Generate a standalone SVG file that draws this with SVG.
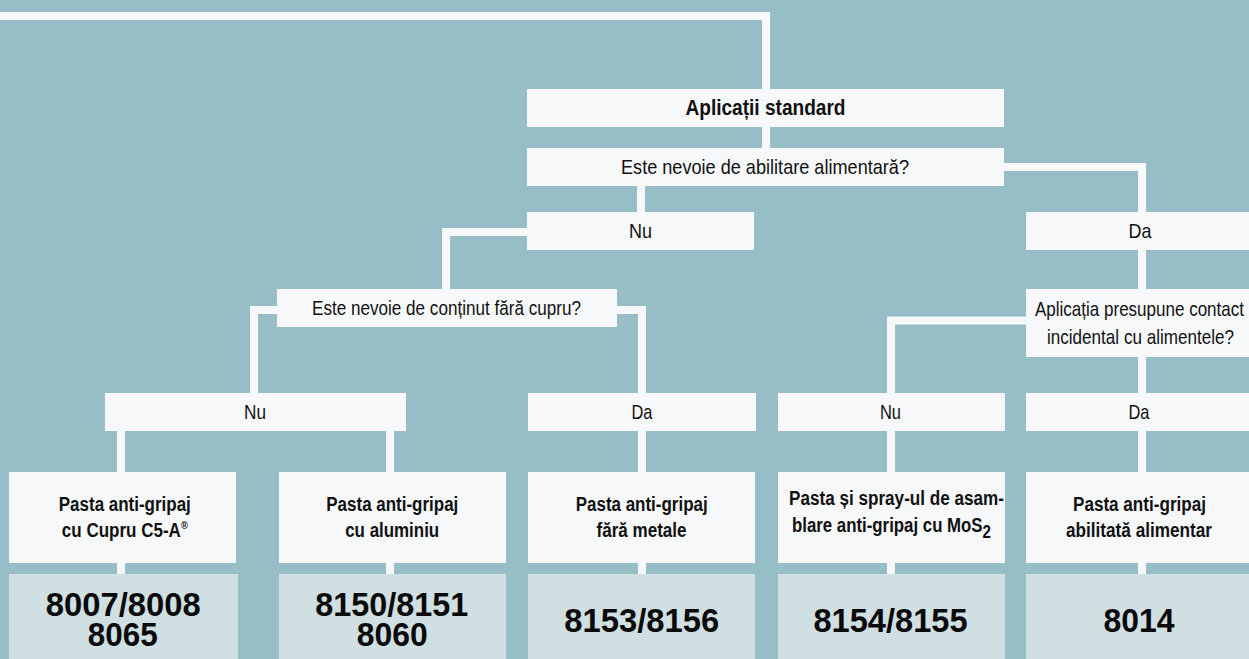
<svg xmlns="http://www.w3.org/2000/svg" width="1249" height="659" viewBox="0 0 1249 659">
  <style>
    .bg { fill: #97BEC7; }
    .box { fill: #F7F8FA; }
    .num { fill: #CFDFE2; }
    .conn { fill: none; stroke: #F7F8FA; stroke-width: 8; stroke-linejoin: miter; stroke-linecap: butt; }
    .t { font-family: "Liberation Sans Narrow", "Liberation Sans", Arial, sans-serif; font-size: 21px; fill: #111; text-anchor: middle; }
    .tb { font-family: "Liberation Sans Narrow", "Liberation Sans", Arial, sans-serif; font-size: 20px; font-weight: bold; fill: #111; text-anchor: middle; }
    .title { font-size: 22px; }
    .n { font-family: "Liberation Sans", Arial, sans-serif; font-size: 33px; font-weight: bold; fill: #0a0a0a; text-anchor: middle; }
  </style>
  <rect class="bg" x="0" y="0" width="1249" height="659"/>

  <g id="connectors">
    <path class="conn" d="M0,16 H766 V89"/>
    <path class="conn" d="M766,127 V148"/>
    <path class="conn" d="M641,186 V212"/>
    <path class="conn" d="M1004,167 H1142 V212"/>
    <path class="conn" d="M527,232 H446 V289"/>
    <path class="conn" d="M277,310 H254 V393"/>
    <path class="conn" d="M617,310 H642 V393"/>
    <path class="conn" d="M1142,250 V289"/>
    <path class="conn" d="M1026,320.5 H891 V393"/>
    <path class="conn" d="M1142,357 V393"/>
    <path class="conn" d="M121,431 V472 M121,563 V574"/>
    <path class="conn" d="M390,431 V472 M390,563 V574"/>
    <path class="conn" d="M642,431 V472 M642,563 V574"/>
    <path class="conn" d="M891,431 V472 M891,563 V574"/>
    <path class="conn" d="M1142,431 V472 M1142,563 V574"/>
  </g>

  <g id="n-standard">
    <rect class="box" x="527" y="89" width="477" height="38"/>
    <text class="tb title" x="765.5" y="115" textLength="160" lengthAdjust="spacingAndGlyphs">Aplicații standard</text>
  </g>
  <g id="q-alimentara">
    <rect class="box" x="527" y="148" width="477" height="38"/>
    <text class="t" x="765" y="174" textLength="288" lengthAdjust="spacingAndGlyphs">Este nevoie de abilitare alimentară?</text>
  </g>
  <g id="a1-nu">
    <rect class="box" x="527" y="212" width="227" height="38"/>
    <text class="t" x="640.5" y="238" textLength="23" lengthAdjust="spacingAndGlyphs">Nu</text>
  </g>
  <g id="a1-da">
    <rect class="box" x="1026" y="212" width="223" height="38"/>
    <text class="t" x="1140" y="238" textLength="23" lengthAdjust="spacingAndGlyphs">Da</text>
  </g>
  <g id="q-cupru">
    <rect class="box" x="277" y="289" width="340" height="38"/>
    <text class="t" x="446.5" y="315" textLength="269" lengthAdjust="spacingAndGlyphs">Este nevoie de conținut fără cupru?</text>
  </g>
  <g id="q-contact">
    <rect class="box" x="1026" y="289" width="223" height="68"/>
    <text class="t" x="1139.5" y="316" textLength="209" lengthAdjust="spacingAndGlyphs">Aplicația presupune contact</text>
    <text class="t" x="1140.5" y="344" textLength="187" lengthAdjust="spacingAndGlyphs">incidental cu alimentele?</text>
  </g>
  <g id="a2-nu">
    <rect class="box" x="105" y="393" width="301" height="38"/>
    <text class="t" x="255" y="419" textLength="22" lengthAdjust="spacingAndGlyphs">Nu</text>
  </g>
  <g id="a2-da">
    <rect class="box" x="528" y="393" width="228" height="38"/>
    <text class="t" x="642" y="419" textLength="21" lengthAdjust="spacingAndGlyphs">Da</text>
  </g>
  <g id="a3-nu">
    <rect class="box" x="778" y="393" width="227" height="38"/>
    <text class="t" x="890.5" y="419" textLength="21" lengthAdjust="spacingAndGlyphs">Nu</text>
  </g>
  <g id="a3-da">
    <rect class="box" x="1026" y="393" width="223" height="38"/>
    <text class="t" x="1139" y="419" textLength="21" lengthAdjust="spacingAndGlyphs">Da</text>
  </g>

  <g id="p-cupru">
    <rect class="box" x="9" y="472" width="227" height="91"/>
    <text class="tb" x="124.8" y="511" textLength="132" lengthAdjust="spacingAndGlyphs">Pasta anti-gripaj</text>
    <text class="tb" x="124.8" y="537" textLength="126" lengthAdjust="spacingAndGlyphs">cu Cupru C5-A<tspan font-size="11" dy="-8">®</tspan></text>
    <rect class="num" x="9" y="574" width="229" height="85"/>
    <text class="n" x="123.2" y="616" textLength="155" lengthAdjust="spacingAndGlyphs">8007/8008</text>
    <text class="n" x="122.8" y="646" textLength="70" lengthAdjust="spacingAndGlyphs">8065</text>
  </g>
  <g id="p-aluminiu">
    <rect class="box" x="279" y="472" width="227" height="91"/>
    <text class="tb" x="392.3" y="511" textLength="132" lengthAdjust="spacingAndGlyphs">Pasta anti-gripaj</text>
    <text class="tb" x="392.2" y="537" textLength="94" lengthAdjust="spacingAndGlyphs">cu aluminiu</text>
    <rect class="num" x="279" y="574" width="227" height="85"/>
    <text class="n" x="391.7" y="616" textLength="153" lengthAdjust="spacingAndGlyphs">8150/8151</text>
    <text class="n" x="392.2" y="646" textLength="71" lengthAdjust="spacingAndGlyphs">8060</text>
  </g>
  <g id="p-fara-metale">
    <rect class="box" x="528" y="472" width="227" height="91"/>
    <text class="tb" x="641.7" y="511" textLength="132" lengthAdjust="spacingAndGlyphs">Pasta anti-gripaj</text>
    <text class="tb" x="641.5" y="537" textLength="90" lengthAdjust="spacingAndGlyphs">fără metale</text>
    <rect class="num" x="528" y="574" width="227" height="85"/>
    <text class="n" x="641.7" y="632" textLength="155" lengthAdjust="spacingAndGlyphs">8153/8156</text>
  </g>
  <g id="p-mos2">
    <rect class="box" x="778" y="472" width="227" height="91"/>
    <text class="tb" x="789" y="504.5" text-anchor="start" style="text-anchor:start" textLength="215" lengthAdjust="spacingAndGlyphs">Pasta și spray-ul de asam-</text>
    <text class="tb" x="792" y="532" style="text-anchor:start" textLength="199" lengthAdjust="spacingAndGlyphs">blare anti-gripaj cu MoS<tspan dy="6" font-size="18">2</tspan></text>
    <rect class="num" x="778" y="574" width="227" height="85"/>
    <text class="n" x="890.5" y="632" textLength="154" lengthAdjust="spacingAndGlyphs">8154/8155</text>
  </g>
  <g id="p-alimentar">
    <rect class="box" x="1026" y="472" width="223" height="91"/>
    <text class="tb" x="1139.5" y="511" textLength="133" lengthAdjust="spacingAndGlyphs">Pasta anti-gripaj</text>
    <text class="tb" x="1139" y="537" textLength="146" lengthAdjust="spacingAndGlyphs">abilitată alimentar</text>
    <rect class="num" x="1026" y="574" width="223" height="85"/>
    <text class="n" x="1139" y="632" textLength="71" lengthAdjust="spacingAndGlyphs">8014</text>
  </g>
</svg>
